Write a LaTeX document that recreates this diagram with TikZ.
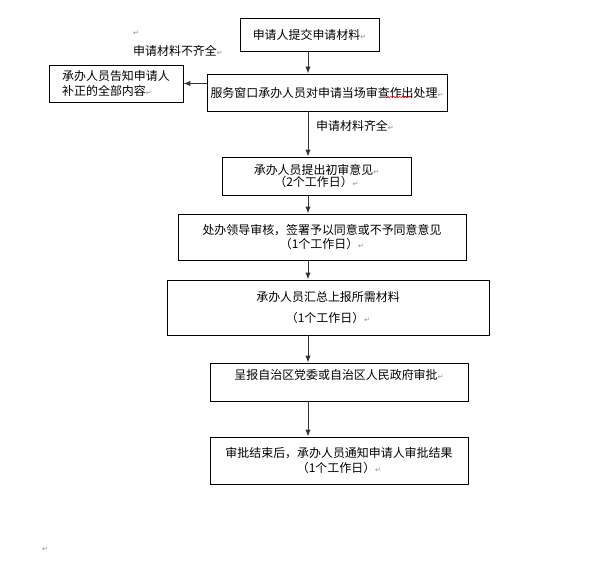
\documentclass[tikz,border=0pt]{standalone}
\usepackage{fontspec}
\setmainfont{Noto Sans CJK SC}
\newfontfamily\symfont{DejaVu Sans}
\usepackage{tikz}
\usetikzlibrary{arrows.meta, decorations.pathmorphing}

\newcommand{\pmark}{{\color{black!45}\symfont\fontsize{6pt}{6pt}\selectfont ↵}}

\begin{document}
\begin{tikzpicture}[x=0.03cm, y=-0.03cm, >={Latex[length=6pt,width=4.5pt]},
    box/.style={draw, line width=0.6pt, inner sep=0pt, align=center,
      font=\fontsize{10.2pt}{12.6pt}\selectfont},
    lbl/.style={inner sep=0pt, font=\fontsize{10.2pt}{12.6pt}\selectfont},
    flow/.style={->, line width=0.8pt, black!80}]
  \useasboundingbox (0,0) rectangle (592,561);
  \coordinate (spine) at (308,0);

  \node[box, minimum width=4.17cm, minimum height=0.99cm] (submit) at (309.5,34.5)
    {申请人提交申请材料\pmark};
  \node[box, minimum width=7.2cm, minimum height=1.11cm] (window) at (327,92.5)
    {服务窗口承办人员对申请当场审查作出处理\pmark};
  \node[box, align=left, minimum width=4.02cm, minimum height=1.11cm] (notify) at (116,83.5)
    {承办人员告知申请人\\ 补正的全部内容\pmark\hspace{2.8em}};
  \node[box, minimum width=5.67cm, minimum height=1.14cm] (first) at (316.5,176)
    {承办人员提出初审意见\pmark\\[-2.5pt]（2个工作日）\pmark};
  \node[box, minimum width=8.64cm, minimum height=1.38cm] (lead) at (322,237)
    {处办领导审核，签署予以同意或不予同意意见\\[-1pt]（1个工作日）\pmark};
  \node[box, minimum width=9.66cm, minimum height=1.65cm] (report) at (328,307.5)
    {承办人员汇总上报所需材料\\[5pt]（1个工作日）\pmark};
  \node[box, minimum width=7.74cm, minimum height=1.14cm] (gov) at (339,382)
    {呈报自治区党委或自治区人民政府审批\pmark\\ \mbox{}};
  \node[box, minimum width=7.74cm, minimum height=1.41cm] (result) at (339,460.5)
    {审批结束后，承办人员通知申请人审批结果\\（1个工作日）\pmark};

  \node[lbl, anchor=west] (short) at (133,51) {申请材料不齐全\pmark};
  \node[lbl, anchor=west] (full) at (316,126) {申请材料齐全\pmark};
  \node[inner sep=0pt] (mark1) at (136,33) {\pmark};
  \node[inner sep=0pt] (mark2) at (45,549) {\pmark};

  \draw[flow] (submit.south -| spine) -- (window.north -| spine);
  \draw[flow] (window.west |- notify) -- (notify.east);
  \draw[flow] (window.south -| spine) -- (first.north -| spine);
  \draw[flow] (first.south -| spine) -- (lead.north -| spine);
  \draw[flow] (lead.south -| spine) -- (report.north -| spine);
  \draw[flow] (report.south -| spine) -- (gov.north -| spine);
  \draw[flow] (gov.south -| spine) -- (result.north -| spine);

  \draw[red, line width=0.4pt, decorate,
    decoration={snake, amplitude=0.6pt, segment length=2.5pt}] (387,97) -- (410,97);
\end{tikzpicture}
\end{document}
